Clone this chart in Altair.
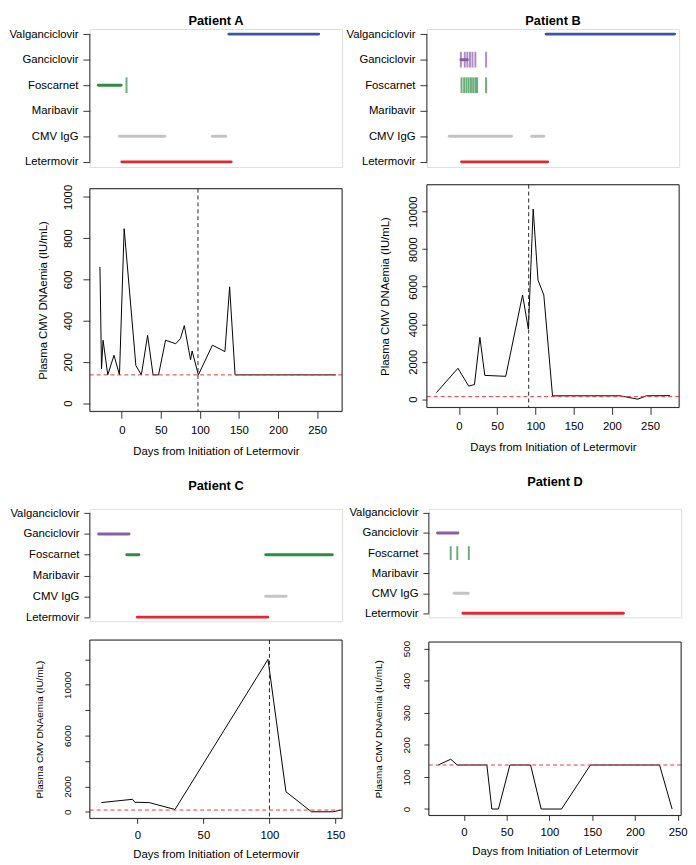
import altair as alt
import pandas as pd

FONT = "Liberation Sans"
CATS = ["Valganciclovir", "Ganciclovir", "Foscarnet", "Maribavir", "CMV IgG", "Letermovir"]
CAT_COLORS = ["#3A55A6", "#8B5CA8", "#2E8B45", "#777777", "#C4C4C4", "#E2272E"]
LLOQ = 137
XTITLE = "Days from Initiation of Letermovir"
YTITLE = "Plasma CMV DNAemia (IU/mL)"

# ---------------- Patient A ----------------
A_bar_drug = ["Valganciclovir", "Foscarnet", "CMV IgG", "CMV IgG", "Letermovir"]
A_bar_start = [137, -30, -3, 116, 0]
A_bar_end = [252, -1, 55, 133, 140]
A_tick_drug = ["Foscarnet"]
A_tick_day = [6]
A_days = [-28, -26, -24, -18, -10, -3, 3, 18, 25, 33, 40, 47, 56, 69, 75, 80, 88, 90, 98, 116, 132, 138, 145, 274]
A_vals = [660, 166, 305, 137, 232, 137, 846, 182, 137, 329, 137, 137, 305, 288, 313, 376, 210, 253, 137, 281, 250, 564, 137, 137]
A_vline = 97.5

# ---------------- Patient B ----------------
B_bar_drug = ["Valganciclovir", "Ganciclovir", "CMV IgG", "CMV IgG", "Letermovir"]
B_bar_start = [114, 2.5, -12.6, 95, 3.4]
B_bar_end = [282, 11, 68.8, 111, 116]
B_tick_drug = ["Ganciclovir"] * 7 + ["Foscarnet"] * 9
B_tick_day = [2.5, 7.6, 11, 14.4, 17.7, 21.5, 35.5,
              3.4, 6.8, 9.8, 12.7, 15.7, 18.6, 21.5, 23.7, 35.5]
B_days = [-29.5, -1.3, 12.7, 20.3, 27.4, 33.8, 61.2, 83.2, 90.8, 97.1, 103.4, 111, 122.4, 211, 234, 245, 276]
B_vals = [348, 1650, 700, 780, 3300, 1270, 1220, 5560, 3740, 10140, 6350, 5560, 180, 180, 0, 180, 190]
B_vline = 91.2

# ---------------- Patient C ----------------
C_bar_drug = ["Ganciclovir", "Foscarnet", "Foscarnet", "CMV IgG", "Letermovir"]
C_bar_start = [-29.3, -8, 97.2, 97.2, 0]
C_bar_end = [-6.3, 1.2, 147.6, 112.5, 98.7]
C_tick_drug = []
C_tick_day = []
C_days = [-27.3, -3.6, -1.9, 9, 28.5, 98.9, 112.5, 131.8, 148, 154]
C_vals = [725, 984, 751, 725, 181, 11995, 1580, 0, 0, 130]
C_vline = 100

# ---------------- Patient D ----------------
D_bar_drug = ["Ganciclovir", "CMV IgG", "Letermovir"]
D_bar_start = [-30.8, -11.5, -1]
D_bar_end = [-6.9, 5, 186.5]
D_tick_drug = ["Foscarnet", "Foscarnet", "Foscarnet"]
D_tick_day = [-15.4, -7.7, 5.8]
D_days = [-30, -15.4, -7.7, 26.9, 32.7, 40.4, 53.8, 78, 90.4, 114.2, 148, 228.8, 243.5]
D_vals = [137, 155, 137, 137, 0, 0, 137, 137, 0, 0, 137, 137, 0]
D_vline = None

W = 256
POS = {c: len(CATS) - i for i, c in enumerate(CATS)}
LABEL_EXPR = "[" + ",".join(["''"] + ["'" + c + "'" for c in reversed(CATS)]) + "][datum.value]"
color_scale = alt.Scale(domain=CATS, range=CAT_COLORS)


def timeline(bar_drug, bar_start, bar_end, tick_drug, tick_day, xdom, h, tick_len,
             title, title_offset, tick_size):
    xsc = alt.Scale(domain=xdom, nice=False, zero=False)
    ysc = alt.Scale(domain=[0.8, 6.2], nice=False, zero=False)
    yax = alt.Axis(values=[1, 2, 3, 4, 5, 6], labelExpr=LABEL_EXPR, domain=False, grid=False,
                   tickSize=tick_size, tickColor="#333333", tickWidth=1, labelFont=FONT,
                   labelFontSize=11.5, labelColor="black", labelPadding=5, title=None)
    bars_df = pd.DataFrame({"drug": bar_drug, "start": bar_start, "end": bar_end})
    bars_df["pos"] = bars_df["drug"].map(POS)
    axis_df = pd.DataFrame({"y": [1], "y2": [6]})
    axisline = alt.Chart(axis_df).mark_rule(color="#333333", strokeWidth=1).encode(
        x=alt.value(0), y=alt.Y("y:Q", scale=ysc, axis=yax), y2="y2:Q")
    bars = alt.Chart(bars_df).mark_rule(strokeWidth=3, strokeCap="round").encode(
        x=alt.X("start:Q", scale=xsc, axis=None), x2="end:Q",
        y=alt.Y("pos:Q", scale=ysc, axis=yax),
        color=alt.Color("drug:N", scale=color_scale, legend=None))
    layers = [axisline, bars]
    if len(tick_day) > 0:
        ticks_df = pd.DataFrame({"drug": tick_drug, "day": tick_day})
        ticks_df["pos"] = ticks_df["drug"].map(POS)
        ticks = alt.Chart(ticks_df).mark_tick(orient="vertical", thickness=2, size=tick_len).encode(
            x=alt.X("day:Q", scale=xsc, axis=None),
            y=alt.Y("pos:Q", scale=ysc, axis=yax),
            color=alt.Color("drug:N", scale=color_scale, legend=None))
        layers.append(ticks)
    return alt.layer(*layers).properties(
        width=W, height=h,
        title=alt.TitleParams(title, font=FONT, fontSize=13, fontWeight="bold", anchor="middle",
                              offset=title_offset, color="black"))


def linechart(days, vals, vline, xdom, ydom, yvals, yhide, xvals, h, tick_size, ytick_size,
              xlab_pad, xtitle_pad, ylab_pad, ytitle_pad, yfont, ytitle_font):
    xsc = alt.Scale(domain=xdom, nice=False, zero=False)
    ysc = alt.Scale(domain=ydom, nice=False, zero=False)
    xax = alt.Axis(values=xvals, title=XTITLE, domain=False, grid=False, format="d",
                   tickSize=tick_size, tickColor="#333333", labelFont=FONT, labelFontSize=11.5,
                   labelColor="black", labelPadding=xlab_pad, labelFlush=False, labelOverlap=False,
                   titleFont=FONT, titleFontSize=11.5, titleFontWeight="normal", titleColor="black",
                   titlePadding=xtitle_pad)
    if yhide:
        cond = " || ".join("datum.value == %d" % v for v in yhide)
        ylabel_expr = "(" + cond + ") ? '' : datum.label"
    else:
        ylabel_expr = "datum.label"
    yax = alt.Axis(values=yvals, title=YTITLE, domain=False, grid=False, format="d",
                   labelExpr=ylabel_expr, labelAngle=270, labelAlign="center", labelBaseline="bottom",
                   tickSize=ytick_size, tickColor="#333333", labelFont=FONT, labelFontSize=yfont,
                   labelColor="black", labelPadding=ylab_pad, labelOverlap=False,
                   titleFont=FONT, titleFontSize=ytitle_font, titleFontWeight="normal",
                   titleColor="black", titlePadding=ytitle_pad)
    df = pd.DataFrame({"day": days, "val": vals})
    line = alt.Chart(df).mark_line(color="black", strokeWidth=1, clip=True).encode(
        x=alt.X("day:Q", scale=xsc, axis=xax), y=alt.Y("val:Q", scale=ysc, axis=yax))
    lloq = alt.Chart(pd.DataFrame({"v": [LLOQ]})).mark_rule(
        color="#E8383D", strokeDash=[4, 3], strokeWidth=1).encode(
        y=alt.Y("v:Q", scale=ysc, axis=yax))
    box = alt.Chart(pd.DataFrame({"z": [0]})).mark_rect(
        fillOpacity=0, stroke="#222222", strokeWidth=1).encode(
        x=alt.value(0), x2=alt.value(W), y=alt.value(0), y2=alt.value(h))
    layers = [line, lloq]
    if vline is not None:
        vl = alt.Chart(pd.DataFrame({"v": [vline]})).mark_rule(
            color="#222222", strokeDash=[4, 3], strokeWidth=1).encode(
            x=alt.X("v:Q", scale=xsc, axis=xax))
        layers.append(vl)
    layers.append(box)
    return alt.layer(*layers).properties(width=W, height=h)


tlA = timeline(A_bar_drug, A_bar_start, A_bar_end, A_tick_drug, A_tick_day, [-41, 282], 140, 16,
               "Patient A", 0, 7)
lnA = linechart(A_days, A_vals, A_vline, [-41, 282], [-40, 1040], [0, 200, 400, 600, 800, 1000], [],
                [0, 50, 100, 150, 200, 250], 226, 7, 7, 6, 10, 10, 14, 11.5, 11.5)
tlB = timeline(B_bar_drug, B_bar_start, B_bar_end, B_tick_drug, B_tick_day, [-42, 288], 140, 16,
               "Patient B", 0, 7)
lnB = linechart(B_days, B_vals, B_vline, [-42, 288], [-440, 11440], [0, 2000, 4000, 6000, 8000, 10000], [],
                [0, 50, 100, 150, 200, 250], 226, 7, 5, 6, 10, 3, 18, 11.5, 11.5)
tlC = timeline(C_bar_drug, C_bar_start, C_bar_end, C_tick_drug, C_tick_day, [-36, 155], 114, 14,
               "Patient C", 14, 6)
lnC = linechart(C_days, C_vals, C_vline, [-36, 155], [-520, 13520],
                [0, 2000, 4000, 6000, 8000, 10000, 12000], [4000, 8000, 12000],
                [0, 50, 100, 150], 181, 5, 5, 6, 8, 13, 18, 10, 10)
tlD = timeline(D_bar_drug, D_bar_start, D_bar_end, D_tick_drug, D_tick_day, [-41, 254], 110, 14,
               "Patient D", 18, 6)
lnD = linechart(D_days, D_vals, D_vline, [-41, 254], [-20, 520], [0, 100, 200, 300, 400, 500], [],
                [0, 50, 100, 150, 200, 250], 176, 5, 5, 6, 8, 13, 18, 10, 10)

pA = alt.vconcat(tlA, lnA, spacing=16)
pB = alt.vconcat(tlB, lnB, spacing=16)
pC = alt.vconcat(tlC, lnC, spacing=16)
pD = alt.vconcat(tlD, lnD, spacing=20)

row1 = alt.hconcat(pA, pB, spacing=2)
row2 = alt.hconcat(pC, pD, spacing=2)

chart = alt.vconcat(row1, row2, spacing=18, padding=0).configure_view(stroke=None).configure(font=FONT)

chart.save("out.html", embed_options={"renderer": "svg", "actions": False})
